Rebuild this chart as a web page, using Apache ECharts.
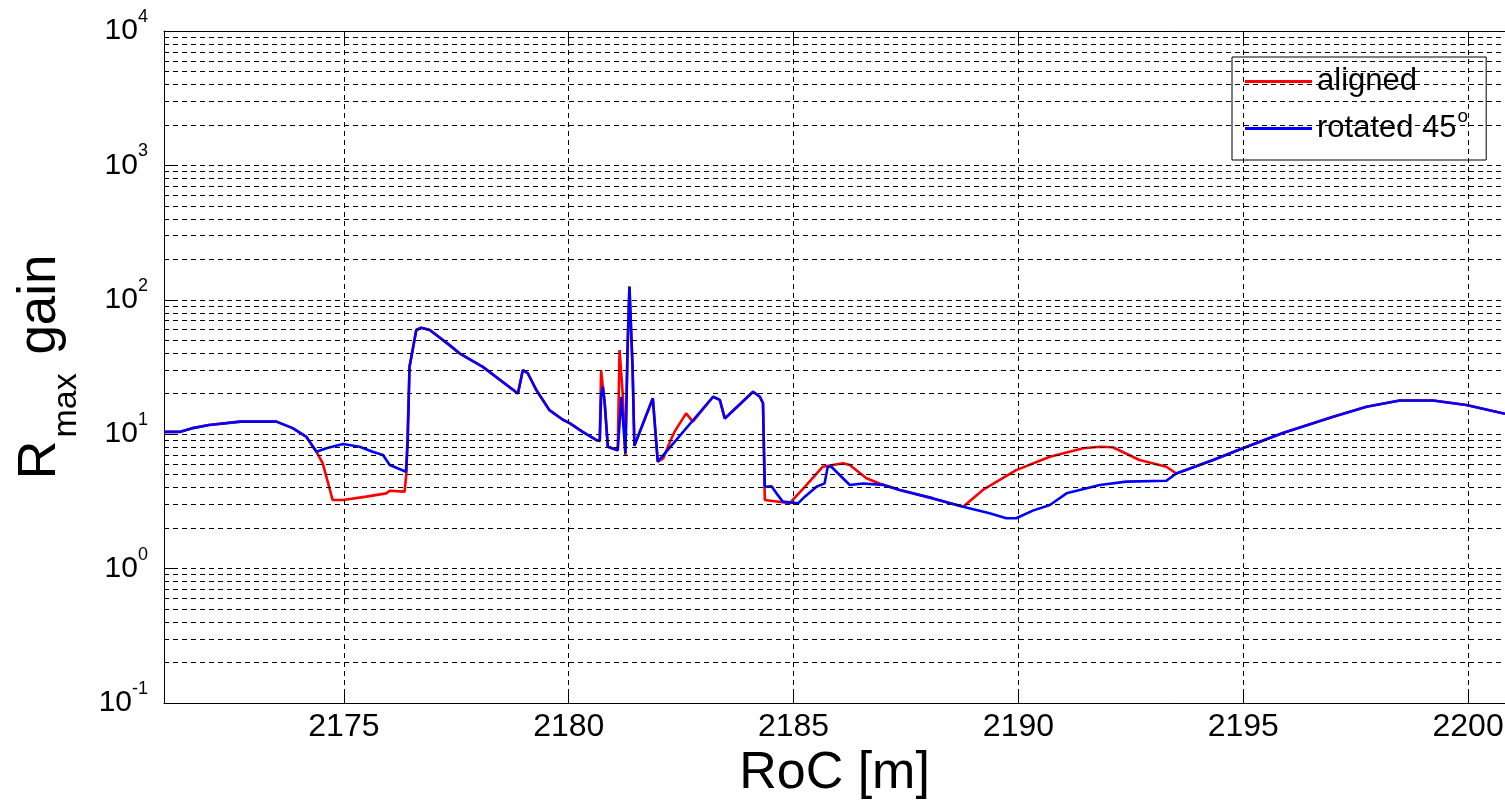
<!DOCTYPE html>
<html>
<head>
<meta charset="utf-8">
<script src="https://cdn.jsdelivr.net/npm/echarts@6/dist/echarts.min.js"></script>
<style>
html,body{margin:0;padding:0;background:#fff;}
#chart{width:1505px;height:805px;}
</style>
</head>
<body>
<div id="chart"></div>
<script>
// RoC [m] and Rmax gain, aligned
const rocA = [2171.0, 2171.35, 2171.64, 2172.0, 2172.7, 2173.5, 2173.86, 2174.16, 2174.39, 2174.53, 2174.61, 2174.75, 2174.98, 2175.50, 2175.94, 2176.02, 2176.35, 2176.39, 2176.46, 2176.61, 2176.72, 2176.91, 2177.35, 2177.57, 2178.09, 2178.87, 2178.98, 2179.09, 2179.28, 2179.57, 2179.87, 2180.02, 2180.31, 2180.61, 2180.69, 2180.72, 2180.76, 2180.80, 2180.87, 2181.09, 2181.13, 2181.20, 2181.26, 2181.31, 2181.35, 2181.42, 2181.46, 2181.87, 2181.98, 2182.10, 2182.24, 2182.35, 2182.61, 2182.76, 2183.21, 2183.36, 2183.47, 2184.10, 2184.25, 2184.32, 2184.34, 2184.36, 2184.76, 2184.91, 2185.25, 2185.65, 2186.10, 2186.25, 2186.62, 2186.91, 2186.99, 2187.36, 2188.10, 2188.77, 2189.21, 2189.95, 2190.70, 2191.44, 2191.81, 2192.10, 2192.69, 2193.29, 2193.51, 2194.33, 2194.99, 2195.88, 2197.00, 2197.74, 2198.48, 2199.22, 2199.96, 2200.82];
const gainA = [10.4, 10.4, 11.1, 11.7, 12.4, 12.4, 11.1, 9.6, 7.4, 6.07, 4.83, 3.24, 3.24, 3.43, 3.63, 3.8, 3.74, 5.1, 31.8, 59.6, 62, 59.6, 46, 40, 31.7, 20.1, 30.0, 28.4, 21.3, 15.1, 12.8, 12.1, 10.4, 9.06, 8.9, 30, 22, 17, 8.07, 7.6, 42.3, 20, 7.0, 46, 126, 31, 8.2, 18.5, 6.25, 6.6, 8.6, 10.4, 14.3, 12.4, 19, 18, 13.1, 20.7, 19, 17, 8, 3.24, 3.12, 3.06, 4.06, 5.73, 6.07, 5.9, 4.7, 4.3, 4.2, 3.85, 3.33, 2.89, 3.85, 5.4, 6.8, 7.85, 8.07, 8.0, 6.43, 5.73, 5.1, 6.43, 7.85, 10.2, 13.5, 16.0, 17.8, 17.8, 16.5, 14.2];
// rotated 45°
const rocB = [2171.0, 2171.35, 2171.64, 2172.0, 2172.7, 2173.5, 2173.86, 2174.16, 2174.39, 2174.61, 2174.98, 2175.35, 2175.64, 2175.87, 2176.02, 2176.38, 2176.42, 2176.46, 2176.61, 2176.72, 2176.91, 2177.35, 2177.57, 2178.09, 2178.87, 2178.98, 2179.09, 2179.28, 2179.57, 2179.87, 2180.02, 2180.31, 2180.61, 2180.69, 2180.72, 2180.76, 2180.80, 2180.87, 2181.09, 2181.17, 2181.26, 2181.31, 2181.35, 2181.42, 2181.46, 2181.87, 2181.98, 2183.21, 2183.36, 2183.47, 2184.10, 2184.25, 2184.32, 2184.34, 2184.36, 2184.51, 2184.62, 2184.76, 2185.10, 2185.25, 2185.51, 2185.69, 2185.76, 2185.84, 2186.25, 2186.54, 2186.99, 2187.36, 2188.10, 2188.77, 2189.36, 2189.73, 2189.95, 2190.32, 2190.70, 2191.07, 2191.81, 2192.40, 2193.29, 2193.51, 2194.33, 2194.99, 2195.88, 2197.00, 2197.74, 2198.48, 2199.22, 2199.96, 2200.82];
const gainB = [10.4, 10.4, 11.1, 11.7, 12.4, 12.4, 11.1, 9.6, 7.4, 7.85, 8.45, 8.07, 7.4, 7.0, 5.9, 5.26, 8.8, 31.8, 59.6, 62, 59.6, 46, 40, 31.7, 20.1, 30.0, 28.4, 21.3, 15.1, 12.8, 12.1, 10.4, 9.06, 8.9, 19, 22.6, 17, 8.07, 7.6, 19, 7.2, 46, 125, 31, 8.2, 18.5, 6.25, 19, 18, 13.1, 20.7, 19, 17, 8, 4.06, 4.1, 3.63, 3.15, 3.06, 3.43, 4.06, 4.31, 5.73, 5.73, 4.19, 4.3, 4.2, 3.85, 3.33, 2.89, 2.58, 2.37, 2.37, 2.7, 2.97, 3.63, 4.19, 4.44, 4.5, 5.1, 6.43, 7.85, 10.2, 13.5, 16.0, 17.8, 17.8, 16.5, 14.2];

const xTicks = [2175, 2180, 2185, 2190, 2195, 2200];
const yDecades = [0.1, 1, 10, 100, 1000, 10000];
const minorMult = [2, 3, 4, 5, 6, 7, 8, 9];
const seriesNames = ['aligned', 'rotated 45°'];

const X_MIN = 2171, X_MAX = 2200.82;
const FONT = '"Liberation Sans", Arial, Helvetica, sans-serif';
const DASH = [5, 4];

const minorY = [];
yDecades.slice(0, -1).forEach(d => minorMult.forEach(m => minorY.push(+(d * m).toPrecision(3))));

const zip = (xs, ys) => xs.map((x, i) => [x, ys[i]]);

const chart = echarts.init(document.getElementById('chart'), null, {renderer: 'canvas'});

const gridLineStyle = {color: '#000', width: 1, type: DASH};

chart.setOption({
  animation: false,
  backgroundColor: '#fff',
  grid: {left: 164, top: 31, right: 0, bottom: 102, containLabel: false, outerBoundsMode: 'none'},
  xAxis: [{
    type: 'value', min: X_MIN, max: X_MAX, position: 'bottom',
    name: 'RoC [m]', nameLocation: 'middle', nameGap: 45,
    nameTextStyle: {fontFamily: FONT, fontSize: 52, color: '#000', lineHeight: 52},
    axisLine: {show: true, onZero: false, lineStyle: {color: '#000', width: 1}},
    axisTick: {show: true, inside: true, length: 13, customValues: xTicks, lineStyle: {color: '#000'}},
    axisLabel: {show: true, customValues: xTicks, margin: 8, fontFamily: FONT, fontSize: 32, color: '#000', lineHeight: 32,
      formatter: v => String(v)},
    splitLine: {show: false}
  }, {
    type: 'value', min: X_MIN, max: X_MAX, position: 'top',
    axisLine: {show: true, onZero: false, lineStyle: {color: '#000', width: 1}},
    axisTick: {show: true, inside: true, length: 13, customValues: xTicks, lineStyle: {color: '#000'}},
    axisLabel: {show: false},
    splitLine: {show: false}
  }],
  yAxis: [{
    type: 'log', logBase: 10, min: 0.1, max: 10000,
    name: '{r|R}{s|max}{g| gain}', nameLocation: 'middle', nameGap: 97,
    nameTextStyle: {
      fontFamily: FONT, color: '#000',
      rich: {
        r: {fontFamily: FONT, fontSize: 54, lineHeight: 54, color: '#000'},
        g: {fontFamily: FONT, fontSize: 53, lineHeight: 54, color: '#000'},
        s: {fontFamily: FONT, fontSize: 34, lineHeight: 34, color: '#000', padding: [54, 4, 0, 3]}
      }
    },
    axisLine: {show: true, onZero: false, lineStyle: {color: '#000', width: 1}},
    axisTick: {show: true, inside: true, length: 13, lineStyle: {color: '#000'}},
    axisLabel: {
      margin: 16,
      formatter: v => '{b|10}{s|' + Math.round(Math.log10(v)) + '}',
      rich: {
        b: {fontFamily: FONT, fontSize: 30, lineHeight: 50, color: '#000'},
        s: {fontFamily: FONT, fontSize: 18, lineHeight: 18, color: '#000', padding: [0, 0, 28, 0]}
      }
    },
    splitLine: {show: true, lineStyle: gridLineStyle},
    minorTick: {show: false},
    minorSplitLine: {show: false}
  }],
  legend: {
    left: 1232, top: 57, orient: 'vertical',
    backgroundColor: '#fff', borderColor: '#000', borderWidth: 1, borderRadius: 0,
    padding: [9, 18, 10, 13],
    itemWidth: 67, itemHeight: 3, itemGap: 10, itemTextGap: 11,
    icon: 'rect',
    data: seriesNames,
    selectedMode: false,
    formatter: n => n === 'aligned' ? '{t|aligned}' : '{t|rotated 45}{s|o}',
    textStyle: {
      fontFamily: FONT, fontSize: 31, color: '#000',
      rich: {
        t: {fontFamily: FONT, fontSize: 31, lineHeight: 42, color: '#000'},
        s: {fontFamily: FONT, fontSize: 19, lineHeight: 18, color: '#000', padding: [0, 0, 24, 1]}
      }
    }
  },
  series: [{
    type: 'line', name: '__grid', data: [], silent: true, z: 1,
    markLine: {
      silent: true, symbol: ['none', 'none'], animation: false,
      label: {show: false},
      lineStyle: gridLineStyle,
      emphasis: {disabled: true},
      data: minorY.map(v => ({yAxis: v})).concat(xTicks.map(v => ({xAxis: v})))
    }
  }, {
    type: 'line', name: seriesNames[0], data: zip(rocA, gainA),
    showSymbol: false, symbol: 'none', z: 3,
    lineStyle: {color: '#ff0000', width: 2.6}, itemStyle: {color: '#ff0000'}
  }, {
    type: 'line', name: seriesNames[1], data: zip(rocB, gainB),
    showSymbol: false, symbol: 'none', z: 4,
    lineStyle: {color: '#0000ff', width: 2.6}, itemStyle: {color: '#0000ff'}
  }]
});
</script>
</body>
</html>
